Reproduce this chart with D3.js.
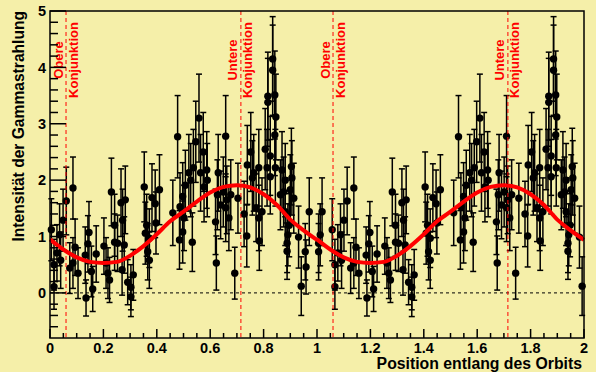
<!DOCTYPE html>
<html>
<head>
<meta charset="utf-8">
<script src="https://cdn.jsdelivr.net/npm/d3@7"></script>
<style>
  body { margin: 0; background: #f5efa9; }
  text { font-family: "Liberation Sans", Arial, sans-serif; font-weight: bold; }
</style>
</head>
<body>
<div id="chart"></div>
<script>
// one orbit of measurements (phase, intensity, error) - second orbit is the same set shifted
var phases = [0.005, 0.015, 0.015, 0.026, 0.036, 0.040, 0.049, 0.061, 0.074, 0.086,
  0.086, 0.094, 0.105, 0.132, 0.135, 0.142, 0.146, 0.155, 0.160, 0.173,
  0.202, 0.210, 0.217, 0.223, 0.230, 0.242, 0.242, 0.253, 0.266, 0.270,
  0.272, 0.278, 0.282, 0.291, 0.303, 0.303, 0.312, 0.353, 0.357, 0.362,
  0.366, 0.372, 0.372, 0.382, 0.394, 0.397, 0.410, 0.460, 0.478, 0.485,
  0.487, 0.497, 0.497, 0.507, 0.502, 0.520, 0.527, 0.533, 0.537, 0.546,
  0.558, 0.564, 0.574, 0.577, 0.587, 0.589, 0.620, 0.623, 0.627, 0.630,
  0.639, 0.649, 0.658, 0.658, 0.662, 0.670, 0.677, 0.692, 0.704, 0.727,
  0.737, 0.739, 0.752, 0.758, 0.763, 0.772, 0.782, 0.782, 0.784, 0.794,
  0.806, 0.813, 0.816, 0.816, 0.825, 0.825, 0.834, 0.834, 0.842, 0.842,
  0.844, 0.846, 0.863, 0.869, 0.875, 0.881, 0.881, 0.888, 0.888, 0.891,
  0.896, 0.900, 0.904, 0.906, 0.913, 0.931, 0.941, 0.956, 0.959, 0.971,
  1.006, 1.006, 1.012, 1.019];
var values = [1.12, 0.50, 0.11, 0.71, 1.03, 0.58, 1.29, 1.63, 0.44, 1.86,
  0.53, 0.81, 0.35, 0.67, -0.09, 0.87, 1.07, 0.38, 0.07, 0.69,
  0.83, 0.53, 0.35, 0.23, 1.79, 1.20, 0.90, 0.88, 1.60, 0.41,
  1.29, 0.85, 1.65, 0.19, -0.07, 0.10, 0.32, 1.88, 1.06, 1.20,
  0.73, 0.58, 0.97, 1.69, 1.58, 1.24, 1.83, 1.42, 2.77, 0.94,
  1.53, 1.71, 1.08, 1.91, 1.33, 2.13, 2.00, 0.90, 2.22, 2.68,
  3.10, 2.13, 2.50, 1.88, 2.18, 2.00, 1.26, 0.53, 1.74, 2.13,
  1.56, 1.79, 2.78, 1.51, 1.65, 1.33, 1.74, 0.35, 1.68, 1.40,
  1.01, 2.27, 2.50, 2.04, 2.13, 1.51, 2.22, 1.33, 0.92, 1.44,
  2.55, 2.22, 3.38, 3.49, 2.43, 2.06, 3.95, 4.15, 3.51, 2.80,
  2.22, 3.12, 1.74, 2.18, 1.79, 2.00, 1.44, 0.88, 0.74, 1.03,
  1.20, 1.83, 2.24, 2.04, 1.68, 0.99, 0.12, 0.73, 0.46, 1.44,
  0.73, 0.88, 1.03, 1.44];
var errors = [0.55, 0.45, 0.40, 0.50, 0.55, 0.50, 0.55, 0.60, 0.45, 0.55,
  0.45, 0.50, 0.45, 0.50, 0.32, 0.50, 0.55, 0.45, 0.40, 0.50,
  0.50, 0.45, 0.45, 0.40, 0.60, 0.55, 0.50, 0.50, 0.60, 0.45,
  0.55, 0.50, 0.60, 0.40, 0.35, 0.40, 0.45, 0.62, 0.55, 0.55,
  0.50, 0.50, 0.52, 0.60, 0.60, 0.55, 0.62, 0.58, 0.73, 0.52,
  0.60, 0.60, 0.55, 0.62, 0.58, 0.68, 0.65, 0.52, 0.68, 0.72,
  0.78, 0.68, 0.70, 0.62, 0.68, 0.65, 0.58, 0.48, 0.62, 0.68,
  0.60, 0.62, 0.72, 0.60, 0.60, 0.58, 0.62, 0.46, 0.62, 0.58,
  0.55, 0.70, 0.70, 0.66, 0.68, 0.60, 0.68, 0.58, 0.52, 0.60,
  0.72, 0.68, 0.78, 0.78, 0.70, 0.66, 0.80, 0.75, 0.78, 0.72,
  0.68, 0.76, 0.62, 0.68, 0.62, 0.65, 0.60, 0.52, 0.50, 0.55,
  0.56, 0.62, 0.68, 0.66, 0.62, 0.55, 0.52, 0.50, 0.48, 0.60,
  0.50, 0.52, 0.55, 0.60];
var orbitShift = 1.052;

// model curve over one orbit
var curvePhases = [0, 0.05, 0.1, 0.15, 0.2, 0.25, 0.3, 0.35, 0.4, 0.45, 0.5,
  0.55, 0.6, 0.65, 0.7, 0.75, 0.8, 0.85, 0.9, 0.95, 1.0];
var curveValues = [0.95, 0.77, 0.63, 0.55, 0.53, 0.55, 0.66, 0.83, 1.04, 1.27, 1.44,
  1.62, 1.78, 1.88, 1.91, 1.87, 1.75, 1.56, 1.30, 1.11, 0.94];

var conjPos = [0.06, 0.715, 1.06, 1.715];
var conjNames = ["Obere", "Untere", "Obere", "Untere"];

var xTicks = [0, 0.2, 0.4, 0.6, 0.8, 1, 1.2, 1.4, 1.6, 1.8, 2];
var yTicks = [0, 1, 2, 3, 4, 5];

var svgWidth = 596;
var svgHeight = 372;
var margin = {top: 11, right: 12, bottom: 34, left: 50};
var width = svgWidth - margin.left - margin.right;
var height = svgHeight - margin.top - margin.bottom;

var svg = d3.select("#chart").append("svg")
  .attr("width", svgWidth)
  .attr("height", svgHeight);

var g = svg.append("g")
  .attr("transform", `translate(${margin.left}, ${margin.top})`);

var x = d3.scaleLinear().domain([0, 2]).range([0, width]);
var y = d3.scaleLinear().domain([-0.8, 5]).range([height, 0]);

// dashed zero line
g.append("line")
  .attr("x1", 0).attr("x2", width)
  .attr("y1", y(0)).attr("y2", y(0))
  .attr("stroke", "#000").attr("stroke-width", 1)
  .attr("stroke-dasharray", "3,3");

// build points for both orbits
var points = [];
[0, orbitShift].forEach(function(off) {
  phases.forEach(function(p, i) {
    var px = p + off;
    if (px >= 0 && px <= 2) points.push({x: px, v: values[i], e: errors[i]});
  });
});

var bars = g.append("g").attr("stroke", "#000").attr("stroke-width", 1.5);
bars.selectAll(".eb").data(points).enter().append("line")
  .attr("x1", d => x(d.x)).attr("x2", d => x(d.x))
  .attr("y1", d => y(d.v - d.e)).attr("y2", d => y(d.v + d.e));
bars.selectAll(".capT").data(points).enter().append("line")
  .attr("x1", d => x(d.x) - 3).attr("x2", d => x(d.x) + 3)
  .attr("y1", d => y(d.v + d.e)).attr("y2", d => y(d.v + d.e));
bars.selectAll(".capB").data(points).enter().append("line")
  .attr("x1", d => x(d.x) - 3).attr("x2", d => x(d.x) + 3)
  .attr("y1", d => y(d.v - d.e)).attr("y2", d => y(d.v - d.e));

g.append("g").selectAll("circle").data(points).enter().append("circle")
  .attr("cx", d => x(d.x))
  .attr("cy", d => y(d.v))
  .attr("r", 3.7)
  .attr("fill", "#000");

// model curve, two orbits
var line = d3.line()
  .x(d => x(d[0]))
  .y(d => y(d[1]))
  .curve(d3.curveMonotoneX);
[0, 1].forEach(function(off) {
  g.append("path")
    .datum(curvePhases.map((p, i) => [p + off, curveValues[i]]))
    .attr("d", line)
    .attr("fill", "none")
    .attr("stroke", "#ff0000")
    .attr("stroke-width", 4);
});

// conjunction markers
conjPos.forEach(function(c, i) {
  var cx = x(c);
  g.append("line")
    .attr("x1", cx).attr("x2", cx)
    .attr("y1", 0).attr("y2", height)
    .attr("stroke", "#ff0000").attr("stroke-width", 1)
    .attr("stroke-dasharray", "4,3");
  g.append("text")
    .attr("transform", `translate(${cx - 3.5}, 49) rotate(-90)`)
    .attr("text-anchor", "middle")
    .attr("fill", "#ff0000")
    .style("font-size", "13px")
    .text(conjNames[i]);
  g.append("text")
    .attr("transform", `translate(${cx + 11.5}, 49) rotate(-90)`)
    .attr("text-anchor", "middle")
    .attr("fill", "#ff0000")
    .style("font-size", "13px")
    .text("Konjunktion");
});

// frame
g.append("rect")
  .attr("width", width).attr("height", height)
  .attr("fill", "none").attr("stroke", "#000").attr("stroke-width", 1.5);

// x ticks (inward)
var xMinor = d3.range(0, 2.0001, 0.05);
g.append("g").selectAll("line").data(xMinor).enter().append("line")
  .attr("x1", d => x(d)).attr("x2", d => x(d))
  .attr("y1", height)
  .attr("y2", d => height - (Math.abs(d * 5 - Math.round(d * 5)) < 1e-6 ? 9 : 5))
  .attr("stroke", "#000").attr("stroke-width", 1.5);
g.append("g").selectAll("text").data(xTicks).enter().append("text")
  .attr("x", d => x(d))
  .attr("y", height + 15)
  .attr("text-anchor", "middle")
  .style("font-size", "14.5px")
  .text(d => d3.format("~g")(d));

// y ticks (inward)
var yMinor = d3.range(-0.6, 5.0001, 0.2);
g.append("g").selectAll("line").data(yMinor).enter().append("line")
  .attr("x1", 0)
  .attr("x2", d => (Math.abs(d - Math.round(d)) < 1e-6 ? 16 : 8))
  .attr("y1", d => y(d)).attr("y2", d => y(d))
  .attr("stroke", "#000").attr("stroke-width", 1.5);
g.append("g").selectAll("text").data(yTicks).enter().append("text")
  .attr("x", -4)
  .attr("y", d => y(d))
  .attr("dy", "0.36em")
  .attr("text-anchor", "end")
  .style("font-size", "14.5px")
  .text(d => d);

// axis titles
svg.append("text")
  .attr("x", 582).attr("y", 369)
  .attr("text-anchor", "end")
  .style("font-size", "15.8px")
  .text("Position entlang des Orbits");

svg.append("text")
  .attr("transform", "translate(24, 11) rotate(-90)")
  .attr("text-anchor", "end")
  .style("font-size", "15.6px")
  .text("Intensität der Gammastrahlung");
</script>
</body>
</html>
